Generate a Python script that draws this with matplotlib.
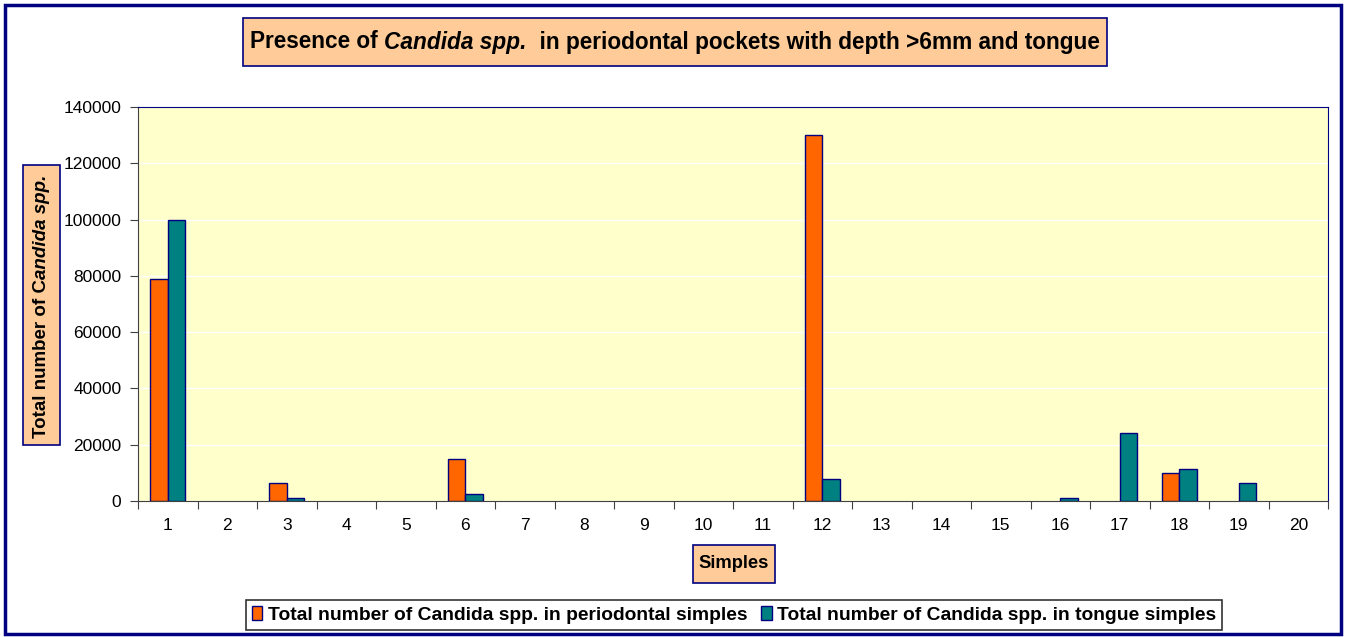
import matplotlib
matplotlib.use("Agg")
import matplotlib.pyplot as plt
import matplotlib.patches as mpatches
import numpy as np

plt.rcParams["font.family"] = ["Liberation Sans", "DejaVu Sans"]

# data
samples = list(range(1, 21))
periodontal = [79000, 0, 6500, 0, 0, 15000, 0, 0, 0, 0,
               0, 130000, 0, 0, 0, 0, 0, 9800, 0, 0]
tongue = [100000, 0, 1000, 0, 0, 2500, 0, 0, 0, 0,
          0, 7800, 0, 0, 0, 1000, 24000, 11200, 6500, 0]
y_ticks = [0, 20000, 40000, 60000, 80000, 100000, 120000, 140000]

W, H = 1346, 637
fig = plt.figure(figsize=(W / 100, H / 100), dpi=100)
fig.patch.set_facecolor("white")

NAVY = "#000080"
BOX = "#FFCC99"

# outer border of the chart area
fig.add_artist(mpatches.Rectangle((5 / W, 3 / H), 1336 / W, 629 / H,
                                  transform=fig.transFigure, fill=False,
                                  edgecolor=NAVY, linewidth=2.5))

ax = fig.add_axes([138 / W, 1 - 501 / H, 1190 / W, 394 / H])
ax.set_facecolor("#FFFFCC")

x = np.arange(1, len(samples) + 1)
w = 0.29
# zero values get no outline so they stay invisible like in Excel
ax.bar(x - w / 2, periodontal, w, color="#FF6600", edgecolor=NAVY,
       linewidth=[1 if v else 0 for v in periodontal],
       label="Total number of Candida spp. in periodontal simples", zorder=3)
ax.bar(x + w / 2, tongue, w, color="#008080", edgecolor=NAVY,
       linewidth=[1 if v else 0 for v in tongue],
       label="Total number of Candida spp. in tongue simples", zorder=3)

ax.set_xlim(0.5, len(samples) + 0.5)
ax.set_ylim(0, 140000)
ax.set_yticks(y_ticks)
ax.set_yticklabels([str(v) for v in y_ticks], fontsize=12.5)
ax.yaxis.grid(True, color="white", linewidth=1, zorder=0)

ax.set_xticks(np.arange(0.5, len(samples) + 1, 1.0))
ax.set_xticklabels([])
ax.set_xticks(x, minor=True)
ax.set_xticklabels([str(s) for s in samples], minor=True, fontsize=12.5)
ax.tick_params(axis="x", which="major", length=6, color="#404040")
ax.tick_params(axis="x", which="minor", length=0, pad=12)
ax.tick_params(axis="y", length=6, color="#404040", pad=6)

for s in ["left", "bottom"]:
    ax.spines[s].set_color("#404040")
for s in ["top", "right"]:
    ax.spines[s].set_color(NAVY)


def rich_text(pieces, cx, cy, fontsize, rotation=0, box=None):
    """Draw text made of (string, style) pieces centred at pixel (cx, cy)."""
    fig.canvas.draw()
    r = fig.canvas.get_renderer()
    texts = []
    for s, style in pieces:
        t = fig.text(0, 0, s, fontsize=fontsize, fontweight="bold",
                     fontstyle=style, rotation=rotation,
                     ha="left" if rotation == 0 else "center",
                     va="center" if rotation == 0 else "bottom",
                     zorder=5)
        texts.append(t)
    sizes = []
    for t in texts:
        bb = t.get_window_extent(r)
        sizes.append(bb.width if rotation == 0 else bb.height)
    total = sum(sizes)
    pos = (cx - total / 2) if rotation == 0 else (cy - total / 2)
    for t, sz in zip(texts, sizes):
        if rotation == 0:
            t.set_position((pos / W, cy / H))
        else:
            t.set_position((cx / W, pos / H))
        pos += sz
    if box is not None:
        x0, y0, x1, y1 = box
        fig.add_artist(mpatches.Rectangle((x0 / W, 1 - y1 / H), (x1 - x0) / W,
                                          (y1 - y0) / H, transform=fig.transFigure,
                                          facecolor=BOX, edgecolor=NAVY,
                                          linewidth=1.2, zorder=4))


# title (box in pixels from top, centre in pixels from bottom)
rich_text([("Presence of ", "normal"), ("Candida spp.", "italic"),
           ("  in periodontal pockets with depth >6mm and tongue", "normal")],
          675, H - 42, 16.3, box=(243, 18, 1107, 66))

# y label
rich_text([("Total number of C", "normal"), ("andida spp.", "italic")],
          42, H - 306, 13.5, rotation=90, box=(23, 165, 60, 445))

# x label
rich_text([("Simples", "normal")], 734, H - 564, 13.2, box=(693, 545, 775, 583))

leg = fig.legend(loc="center", bbox_to_anchor=(734 / W, 1 - 615 / H),
                 ncol=2, frameon=True, fancybox=False,
                 prop={"weight": "bold", "size": 13.9},
                 handlelength=0.55, handleheight=0.75, handletextpad=0.3,
                 columnspacing=0.7, borderpad=0.3, edgecolor="black")
leg.get_frame().set_linewidth(1.2)

fig.savefig("out.png", dpi=100)
